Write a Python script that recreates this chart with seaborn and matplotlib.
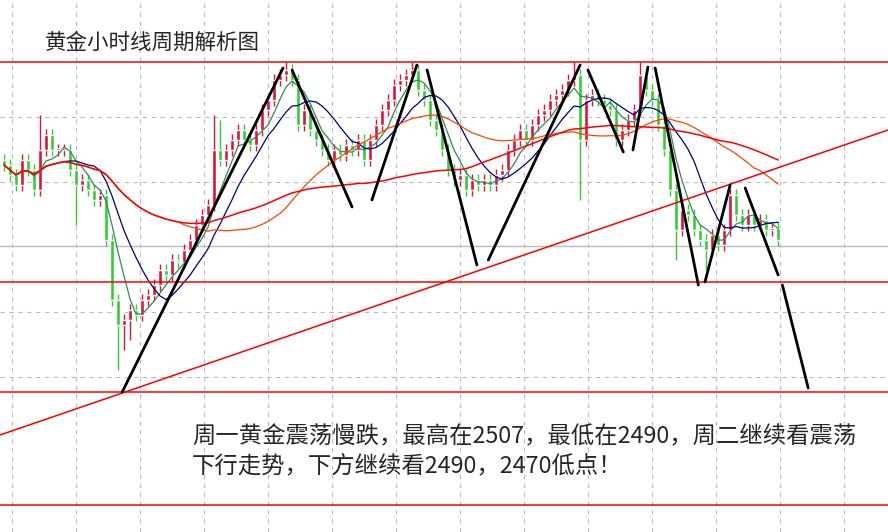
import matplotlib
matplotlib.use("Agg")
import matplotlib.pyplot as plt
import numpy as np
import pandas as pd
import seaborn as sns

title = "黄金小时线周期解析图"
note_lines = ["周一黄金震荡慢跌，最高在2507，最低在2490，周二继续看震荡",
              "下行走势，下方继续看2490，2470低点！"]

closes = [
    2513.5, 2512.5, 2511.5, 2514.0, 2513.0, 2511.0, 2515.0, 2516.5, 2515.0, 2515.0,
    2515.0, 2513.0, 2511.5, 2512.0, 2511.0, 2510.0, 2510.5, 2506.0, 2500.0, 2497.5,
    2498.0, 2499.0, 2498.5, 2500.0, 2500.5, 2501.5, 2503.0, 2502.5, 2504.0, 2503.8,
    2505.0, 2506.0, 2507.5, 2508.5, 2509.5, 2515.0, 2514.0, 2515.0, 2516.0, 2517.0,
    2516.0, 2515.5, 2517.0, 2519.0, 2520.0, 2522.0, 2522.5, 2523.0, 2522.0, 2517.5,
    2519.0, 2517.0, 2516.0, 2515.0, 2514.0, 2515.0, 2514.5, 2515.5, 2515.0, 2516.0,
    2514.0, 2516.0, 2517.5, 2519.0, 2520.0, 2521.5, 2522.0, 2522.5, 2523.0, 2521.0,
    2520.0, 2518.0, 2517.0, 2515.0, 2513.0, 2512.0, 2512.5, 2511.0, 2512.0, 2511.5,
    2512.0, 2511.5, 2512.5, 2513.0, 2515.0, 2516.0, 2517.0, 2516.0, 2517.5, 2518.5,
    2519.0, 2520.0, 2520.5, 2521.0, 2522.0, 2522.5, 2516.0, 2520.0, 2520.5, 2520.0,
    2519.5, 2519.0, 2516.0, 2517.0, 2518.0, 2519.0, 2522.5, 2521.0, 2520.0, 2517.5,
    2515.0, 2511.0, 2507.0, 2509.0, 2508.5, 2507.0, 2506.0, 2505.0, 2506.5, 2505.5,
    2507.0, 2510.5, 2508.5, 2507.5, 2508.5, 2507.5, 2508.0, 2507.0, 2507.2, 2506.0,
]
first_open = 2514.0
# notable wick extremes (bar index -> price)
spike_highs = {6: 2518.5, 35: 2518.5, 36: 2518.0, 47: 2523.8, 68: 2523.8, 95: 2523.8, 106: 2523.8}
spike_lows = {12: 2507.5, 19: 2493.0, 20: 2495.0, 21: 2496.0, 96: 2510.0, 112: 2504.0, 117: 2503.0}
wick = 0.6

levels = [2523.8, 2501.8, 2490.8, 2479.5]
trend_x = [-0.667, 147.3]
trend_y = [2486.5, 2517.0]
zigzags = [
    ([19.7, 46.5], [2490.8, 2523.2]), ([48, 58], [2523, 2509.3]),
    ([61.3, 68.8], [2510, 2523.5]), ([70.5, 78.8], [2523, 2503.5]),
    ([80.7, 96], [2504, 2523.5]), ([97.3, 103.2], [2523, 2514.8]),
    ([104.8, 107.3], [2515, 2523.3]), ([108.5, 115.7], [2523.2, 2501.5]),
    ([116.8, 121], [2501.8, 2511.5]), ([123.5, 129], [2511.2, 2502.5]),
    ([129.7, 134], [2501.5, 2491.2]),
]

sns.set_theme(style="white")
plt.rcParams["font.family"] = ["Noto Sans CJK SC", "DejaVu Sans"]

df = pd.DataFrame({"close": closes})
df["bar"] = np.arange(len(df))
df["open"] = [first_open] + closes[:-1]
df["high"] = [spike_highs.get(i, max(o, c) + wick) for i, (o, c) in enumerate(zip(df["open"], df["close"]))]
df["low"] = [spike_lows.get(i, min(o, c) - wick) for i, (o, c) in enumerate(zip(df["open"], df["close"]))]

fig = plt.figure(figsize=(8.88, 5.32), dpi=100)
ax = fig.add_axes([0, 0, 1, 1])
ax.set_xlim(-0.667, 147.3)
ax.set_ylim(2476.8, 2530)

for gx in np.arange(1.33, 147, 10.67):
    ax.axvline(gx, color="#bbbbbb", ls=(0, (4, 4)), lw=0.8, zorder=0)
for gy in [2518.3, 2511.8, 2498.8, 2492.3]:
    ax.axhline(gy, color="#bbbbbb", ls=(0, (4, 4)), lw=0.8, zorder=0)
ax.axhline(2505.4, color="#bbbbbb", lw=1, zorder=0)

up = df["close"] >= df["open"]
colors = np.where(up, "#dc143c", "#32cd32")
ax.vlines(df["bar"], df["low"], df["high"], colors=colors, lw=1, zorder=2)
ax.bar(df["bar"], (df["close"] - df["open"]).abs().clip(lower=0.2),
       bottom=np.minimum(df["open"], df["close"]), width=0.68, color=colors, zorder=3)

for win, col, lw in [(5, "#2e8b57", 0.9), (10, "#000080", 0.9), (30, "#ff4500", 0.9), (60, "#ff0000", 1.1)]:
    df[f"ma{win}"] = df["close"].rolling(win, min_periods=1).mean()
    sns.lineplot(data=df, x="bar", y=f"ma{win}", color=col, lw=lw, ax=ax, zorder=4)

for lv in levels:
    ax.axhline(lv, color="#ff0000", lw=1.1, zorder=5)
ax.plot(trend_x, trend_y, color="#ff0000", lw=1.1, zorder=5)
for xs, ys in zigzags:
    ax.plot(xs, ys, color="black", lw=2, zorder=6, solid_capstyle="round")

ax.text(0.051, 0.92, title, transform=ax.transAxes, fontsize=15.5, va="center")
ax.text(0.216, 0.178, note_lines[0], transform=ax.transAxes, fontsize=16.8, va="center")
ax.text(0.216, 0.125, note_lines[1], transform=ax.transAxes, fontsize=16.8, va="center")

ax.set_xlabel("")
ax.set_ylabel("")
ax.set_xticks([])
ax.set_yticks([])
for s in ax.spines.values():
    s.set_visible(False)

fig.savefig("out.png", dpi=100)
